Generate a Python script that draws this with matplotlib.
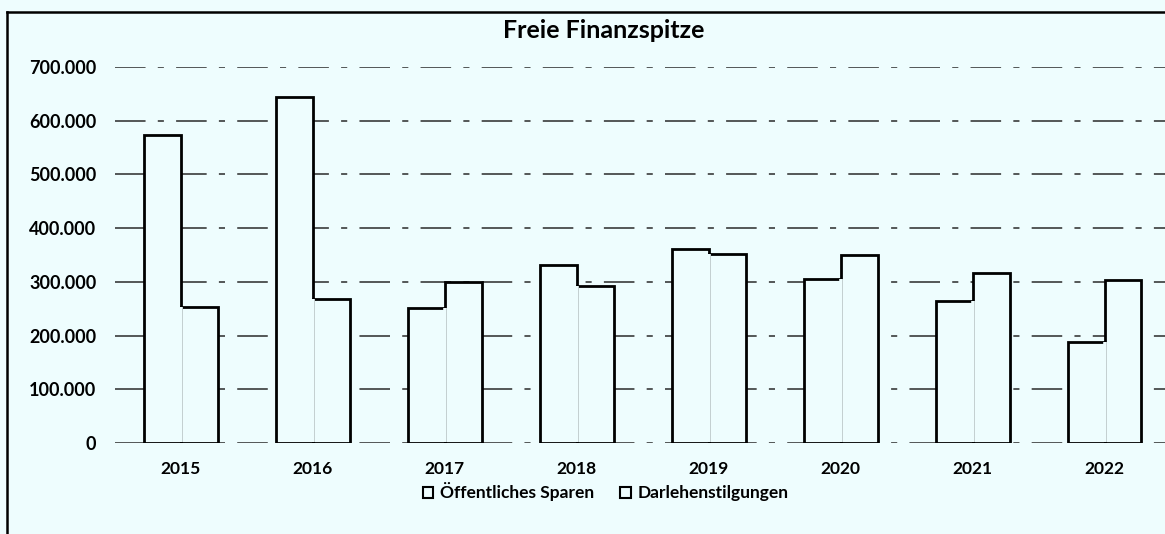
import numpy as np
import matplotlib.pyplot as plt
from matplotlib.lines import Line2D
from matplotlib.patches import Patch

# data
years = ['2015', '2016', '2017', '2018', '2019', '2020', '2021', '2022']
oeff_sparen = [574000, 645000, 252000, 331000, 361000, 306000, 265000, 188000]
darlehen = [254000, 269000, 299000, 292000, 352000, 350000, 316000, 303000]
y_ticks = [0, 100000, 200000, 300000, 400000, 500000, 600000, 700000]
y_labels = ['0', '100.000', '200.000', '300.000', '400.000', '500.000', '600.000', '700.000']

bg = '#EEFDFE'
plt.rcParams['font.family'] = ['Lato', 'DejaVu Sans']

fig = plt.figure(figsize=(11.65, 5.34), dpi=100)
fig.patch.set_facecolor(bg)
ax = fig.add_axes([0.0987, 0.1704, 0.906, 0.7041])
ax.set_facecolor(bg)

x = np.arange(len(years))
w = 0.28

#grid lines first
ax.set_axisbelow(True)
ax.yaxis.grid(True, color='#2a2a2a', linewidth=1.1, linestyle=(0, (20, 8, 4, 8)))
ax.xaxis.grid(False)

ax.bar(x - w/2, oeff_sparen, width=w, color=bg, edgecolor='black', linewidth=2, zorder=2)
ax.bar(x + w/2, darlehen, width=w, color=bg, edgecolor='black', linewidth=2, zorder=2)
# hide shared edge below the lower of the two bars
ax.vlines(x, 2000, np.minimum(oeff_sparen, darlehen), color=bg, linewidth=2.6, zorder=3)

ax.set_xlim(-0.5, 7.5)
ax.set_ylim(0, 700000)
ax.set_xticks(x)
ax.set_xticklabels(years, fontsize=12.5, fontweight='bold')
ax.set_yticks(y_ticks)
ax.set_yticklabels(y_labels, fontsize=13, fontweight='bold')
ax.tick_params(axis='both', length=0)
ax.tick_params(axis='y', pad=13.5)
ax.tick_params(axis='x', pad=13)
for s in ax.spines.values():
    s.set_visible(False)

fig.text(0.518, 0.942, 'Freie Finanzspitze', ha='center', va='center',
         fontsize=18, fontweight='bold')

handles = [Patch(facecolor=bg, edgecolor='black', linewidth=1.5),
           Patch(facecolor=bg, edgecolor='black', linewidth=1.5)]
fig.legend(handles, ['Öffentliches Sparen', 'Darlehenstilgungen'],
           loc='center', bbox_to_anchor=(0.52, 0.079), ncol=2, frameon=False,
           prop={'size': 12.5, 'weight': 'bold'}, handlelength=0.6, handleheight=0.6,
           handletextpad=0.4, columnspacing=1.5)

# frame of the chart (top and left only, like the scan)
fig.add_artist(Line2D([7/1165, 1.0], [1 - 12/534, 1 - 12/534], color='black', linewidth=1.8))
fig.add_artist(Line2D([7/1165, 7/1165], [0, 1 - 12/534], color='black', linewidth=1.8))

fig.savefig('out.png', dpi=100, facecolor=bg)
